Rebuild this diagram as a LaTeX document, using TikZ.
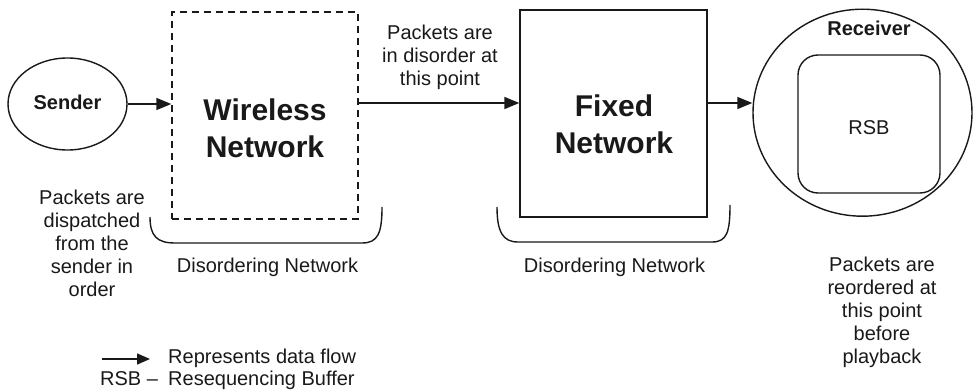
\documentclass[tikz,border=0pt]{standalone}
\usepackage{fontspec}
\setmainfont{Liberation Sans}
\usetikzlibrary{shapes.geometric,arrows.meta}
\tikzset{
  ink/.style={draw=black!90, line width=1.4pt},
  flow/.style={draw=black!90, line width=1.5pt, -{Triangle[length=15pt,width=12pt]}},
  txt/.style={font=\fontsize{20}{23}\selectfont, text=black!90, inner sep=0pt, align=center},
  boldtxt/.style={font=\bfseries\fontsize{20}{23}\selectfont, text=black!90, inner sep=0pt},
  bigtxt/.style={font=\bfseries\fontsize{30}{37}\selectfont, text=black!90, inner sep=0pt, align=center},
  netbox/.style={rectangle, ink, minimum width=186pt, minimum height=207pt, inner sep=0pt},
  brace/.style={draw=black!90, line width=1.4pt},
}
\begin{document}
\begin{tikzpicture}[x=1pt, y=-1pt]
\useasboundingbox (0,0) rectangle (974,390);

% end points
\node[ellipse, ink, minimum width=119pt, minimum height=92pt, inner sep=0pt] (sender) at (67.5,104) {};
\node[boldtxt, anchor=base] (sendertxt) at (67.5,110) {Sender};

\node[ellipse, ink, minimum width=219pt, minimum height=207pt, inner sep=0pt] (receiver) at (862.5,112.7) {};
\node[boldtxt, anchor=base] (receivertxt) at (869,36) {Receiver};
\node[rectangle, ink, rounded corners=20pt, minimum width=142pt, minimum height=138pt, inner sep=0pt] (rsb) at (869,124) {};
\node[txt, anchor=base] (rsbtxt) at (869,135) {RSB};

% networks
\node[netbox, dash pattern=on 7pt off 5pt] (wireless) at (265,115.5) {};
\node[bigtxt] (wirelesstxt) at (265,128) {Wireless\\Network};
\node[netbox, minimum width=187pt] (fixed) at (613.5,113.5) {};
\node[bigtxt] (fixedtxt) at (614,124.5) {Fixed\\Network};

% data flow
\draw[flow] (sender.east) -- (sender.east -| wireless.west);
\draw[flow] (wireless.east |- 0,103) -- (fixed.west |- 0,103);
\draw[flow] (fixed.east |- 0,103) -- (receiver.west |- 0,103);

% brackets under the networks
\draw[brace] (150,217) .. controls (150,236) and (157,243) .. (175,243)
  -- (362,243) .. controls (378,243) and (382,233) .. (382,207);
\draw[brace] (497,207) .. controls (497,232) and (503,242) .. (518,242)
  -- (712,242) .. controls (727,242) and (730,232) .. (730,205);
\node[txt, anchor=base] (dis1) at (267.5,272) {Disordering Network};
\node[txt, anchor=base] (dis2) at (614.5,272) {Disordering Network};

% notes
\node[txt] (note1) at (92,243) {Packets are\\dispatched\\from the\\sender in\\order};
\node[txt] (note2) at (440,57) {Packets are\\in disorder at\\this point};
\node[txt] (note3) at (882,312) {Packets are\\reordered at\\this point\\before\\playback};

% legend
\coordinate (lgA) at (102,359);
\coordinate (lgB) at (150,359);
\draw[flow, line width=1.4pt, -{Triangle[length=13pt,width=11pt]}] (lgA) -- (lgB);
\node[txt, anchor=base west] (lg1) at (168,363) {Represents data flow};
\node[txt, anchor=base west] (lg2) at (100,385) {RSB –};
\node[txt, anchor=base west] (lg3) at (168,385) {Resequencing Buffer};
\end{tikzpicture}
\end{document}
